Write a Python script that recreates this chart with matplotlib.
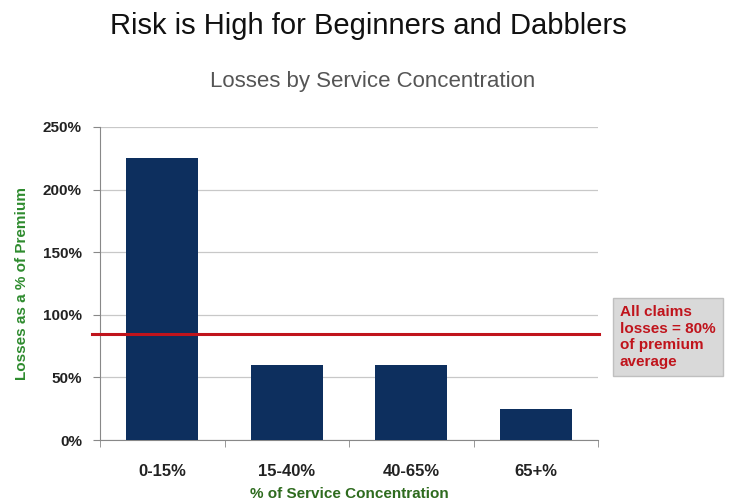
import numpy as np
import matplotlib
matplotlib.use("Agg")
from matplotlib import pyplot as plt
from matplotlib.ticker import FuncFormatter

# data
categories = ['0-15%', '15-40%', '40-65%', '65+%']
losses_pct = [225, 60, 60, 25]
avg_line = 85
yticks = [0, 50, 100, 150, 200, 250]

plt.rcParams['font.family'] = ['Liberation Sans', 'DejaVu Sans']

fig = plt.figure(figsize=(7.33, 5.04), dpi=100)
ax = fig.add_axes([100/733, 1 - 440/504, 498/733, 313/504])

x = np.arange(len(categories))
ax.bar(x, losses_pct, width=0.58, color='#0d2f5e', zorder=3)
ax.set_xlim(-0.5, len(categories) - 0.5)
ax.set_ylim(0, 250)

# average line, runs a bit past the left spine
ax.plot([-0.565, 3.51], [avg_line, avg_line], color='#c0141c', lw=2.2,
        zorder=4, clip_on=False)

ax.set_yticks(yticks)
ax.yaxis.set_major_formatter(FuncFormatter(lambda v, p: '%d%%' % v))
ax.set_xticks(x)
ax.set_xticklabels(categories)
ax.set_xticks(np.arange(-0.5, len(categories)), minor=True)
ax.tick_params(axis='x', which='major', length=0, pad=17)
ax.tick_params(axis='x', which='minor', length=5, color='#888888', direction='out')
ax.tick_params(axis='y', length=5, color='#888888', direction='out', pad=8)
for lab in ax.get_xticklabels():
    lab.set_fontweight('bold')
    lab.set_fontsize(12)
    lab.set_color('#222222')
for lab in ax.get_yticklabels():
    lab.set_fontweight('bold')
    lab.set_fontsize(11)
    lab.set_color('#222222')

ax.grid(axis='y', color='#c8c8c8', lw=0.9, zorder=0)
for s in ['top', 'right']:
    ax.spines[s].set_visible(False)
for s in ['left', 'bottom']:
    ax.spines[s].set_color('#888888')

ax.set_ylabel('Losses as a % of Premium', color='#2e8b2e', fontweight='bold',
              fontsize=11, labelpad=10)
fig.text(349/733, 1 - 494/504, '% of Service Concentration', color='#2e6b1e',
         fontweight='bold', fontsize=11, ha='center', va='center')

fig.text(0.502, 1 - 26/504, 'Risk is High for Beginners and Dabblers',
         ha='center', va='center', fontsize=21, color='#111111')
fig.text(0.508, 1 - 82/504, 'Losses by Service Concentration',
         ha='center', va='center', fontsize=16, color='#555555')

fig.text(620/733, 1 - 337/504, 'All claims\nlosses = 80%\nof premium\naverage',
         ha='left', va='center', fontsize=11, fontweight='bold',
         color='#c0141c', linespacing=1.25,
         bbox=dict(boxstyle='square,pad=0.45', fc='#d9d9d9', ec='#bfbfbf'))

fig.savefig('out.png', dpi=100)
